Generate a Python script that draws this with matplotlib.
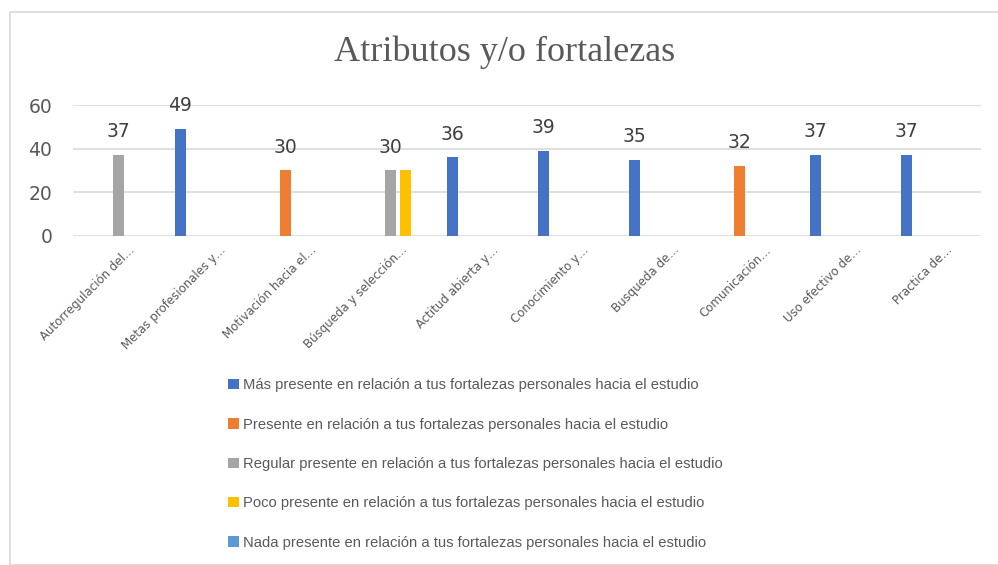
import matplotlib
matplotlib.use("Agg")
import matplotlib.pyplot as plt
import matplotlib.transforms as mtransforms
from matplotlib.patches import Rectangle, Patch
import numpy as np

nan = np.nan
categories = ["Autorregulación del…", "Metas profesionales y…", "Motivación hacia el…",
              "Búsqueda y selección…", "Actitud abierta y…", "Conocimiento y…",
              "Busqueda de…", "Comunicación…", "Uso efectivo de…", "Practica de…"]
series_names = ["Más presente en relación a tus fortalezas personales hacia el estudio",
                "Presente en relación a tus fortalezas personales hacia el estudio",
                "Regular presente en relación a tus fortalezas personales hacia el estudio",
                "Poco presente en relación a tus fortalezas personales hacia el estudio",
                "Nada presente en relación a tus fortalezas personales hacia el estudio"]
mas_presente = [nan, 49, nan, nan, 36, 39, 35, nan, 37, 37]
presente = [nan, nan, 30, nan, nan, nan, nan, 32, nan, nan]
regular = [37, nan, nan, 30, nan, nan, nan, nan, nan, nan]
poco = [nan, nan, nan, 30, nan, nan, nan, nan, nan, nan]
nada = [nan] * 10
show_labels = [True, True, True, False, True]
colors = ["#4472C4", "#ED7D31", "#A5A5A5", "#FFC000", "#5B9BD5"]
y_ticks = [0, 20, 40, 60]
title = "Atributos y/o fortalezas"

all_series = [mas_presente, presente, regular, poco, nada]

fig = plt.figure(figsize=(9.98, 5.65), dpi=100)
W, H = 998, 565
# chart border
fig.patches.append(Rectangle((9.5 / W, 0), 1.0, 1 - 11.5 / H, transform=fig.transFigure,
                             fill=False, edgecolor="#D9D9D9", linewidth=1.2))

ax = fig.add_axes([73 / W, 1 - 235.7 / H, (981 - 73) / W, (235.7 - 105.3) / H])
x = np.arange(len(categories))
step, bw = 0.16, 0.12
for i, (vals, col, lab) in enumerate(zip(all_series, colors, show_labels)):
    pos = x + (i - 2) * step
    v = np.array(vals, dtype=float)
    ax.bar(pos, v, width=bw, color=col, zorder=3)
    if lab:
        for p, val in zip(pos, v):
            if not np.isnan(val):
                ax.annotate(f"{int(val)}", (p, val), xytext=(0, 10), textcoords="offset points",
                            ha="center", va="bottom", fontsize=13.5, color="#404040",
                            family="DejaVu Sans", annotation_clip=False)

ax.set_xlim(-0.5, len(categories) - 0.5)
ax.set_ylim(0, 60)
ax.set_yticks(y_ticks)
ax.set_yticklabels([str(t) for t in y_ticks], fontsize=13.5, color="#595959")
ax.tick_params(axis="y", length=0, pad=15)
ax.tick_params(axis="x", length=0, pad=4)
ax.yaxis.grid(True, color="#D9D9D9", linewidth=1.2, zorder=0)
ax.set_axisbelow(True)
for s in ax.spines.values():
    s.set_visible(False)
ax.set_xticks(x)
ax.set_xticklabels(categories, rotation=45, ha="right", rotation_mode="anchor",
                   fontsize=8.5, color="#595959")
offset = mtransforms.ScaledTranslation(10 / 100, -2 / 100, fig.dpi_scale_trans)
for t in ax.get_xticklabels():
    t.set_transform(t.get_transform() + offset)

fig.text(505 / W, 1 - 52 / H, title, ha="center", va="center", fontsize=26,
         family="Liberation Serif", color="#595959")

handles = [Patch(facecolor=c, edgecolor="none") for c in colors]
leg = fig.legend(handles, series_names, loc="upper left", bbox_to_anchor=(215 / W, 1 - 365 / H),
                 ncol=1, frameon=False,
                 handlelength=0.72, handleheight=0.72, handletextpad=0.3, labelspacing=1.72,
                 prop={"family": "Liberation Sans", "size": 10.6})
for t in leg.get_texts():
    t.set_color("#595959")

fig.savefig("out.png", dpi=100)
